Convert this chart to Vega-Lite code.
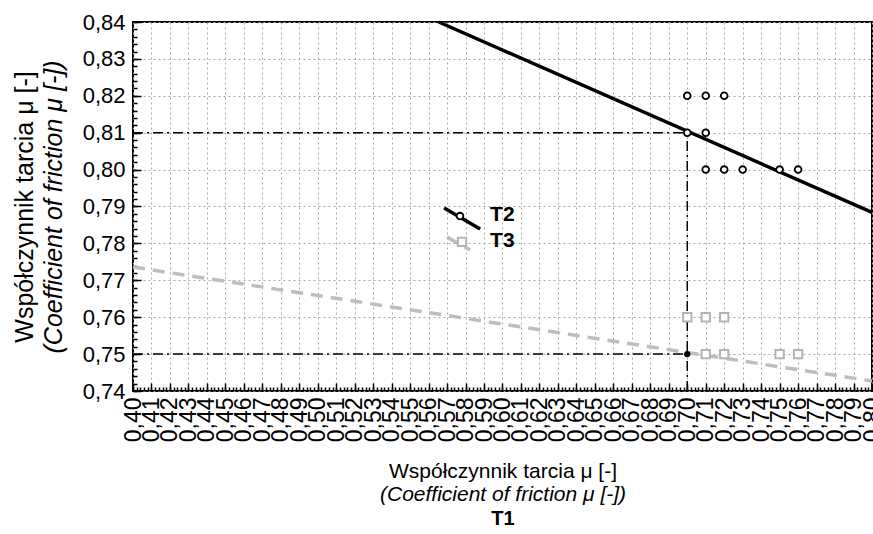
{
  "$schema": "https://vega.github.io/schema/vega-lite/v6.json",
  "width": 739,
  "height": 369,
  "autosize": {"type": "none"},
  "padding": {"left": 133, "top": 22, "right": 1, "bottom": 143},
  "background": "white",
  "config": {
    "view": {"stroke": "black", "strokeWidth": 2},
    "axis": {
      "labelFont": "Liberation Sans",
      "titleFont": "Liberation Sans",
      "labelColor": "black",
      "titleColor": "black",
      "titleFontWeight": "normal",
      "domain": false,
      "grid": false,
      "ticks": false,
      "labels": false,
      "gridColor": "#a8a8a8",
      "gridDash": [2, 3],
      "gridWidth": 1,
      "tickColor": "black",
      "tickWidth": 1.5
    }
  },
  "resolve": {"axis": {"x": "independent", "y": "independent"}},
  "layer": [
    {
      "data": {"values": [
        {"x": 0.40, "x2": 0.70, "y": 0.81, "y2": 0.81},
        {"x": 0.40, "x2": 0.70, "y": 0.75, "y2": 0.75},
        {"x": 0.70, "x2": 0.70, "y": 0.74, "y2": 0.81}
      ]},
      "mark": {"type": "rule", "color": "black", "strokeWidth": 1.5, "strokeDash": [10, 4, 2, 4]},
      "encoding": {
        "x": {"field": "x", "type": "quantitative",
          "scale": {"domain": [0.40, 0.80], "nice": false, "zero": false},
          "axis": {"orient": "bottom", "grid": true, "labels": true, "tickCount": 40,
            "labelAngle": 270, "labelFontSize": 23, "labelPadding": 6,
            "labelOverlap": false, "labelBound": false, "labelFlush": false,
            "labelExpr": "replace(format(datum.value, '.2f'), '.', ',')",
            "title": "Współczynnik tarcia μ [-]", "titleFontSize": 21, "titlePadding": 19}},
        "x2": {"field": "x2"},
        "y": {"field": "y", "type": "quantitative",
          "scale": {"domain": [0.74, 0.84], "nice": false, "zero": false},
          "axis": {"orient": "left", "grid": true, "labels": true, "tickCount": 10,
            "labelFontSize": 22, "labelPadding": 8,
            "labelOverlap": false, "labelBound": false, "labelFlush": false,
            "labelExpr": "replace(format(datum.value, '.2f'), '.', ',')",
            "title": "Współczynnik tarcia μ [-]", "titleFontSize": 25, "titlePadding": 45}},
        "y2": {"field": "y2"}
      }
    },
    {
      "data": {"values": [
        {"x": 0.40, "y": 0.7736, "g": "main"},
        {"x": 0.80, "y": 0.7427, "g": "main"},
        {"x": 0.5700, "y": 0.7817, "g": "legend"},
        {"x": 0.5825, "y": 0.7782, "g": "legend"}
      ]},
      "mark": {"type": "line", "color": "#bdbdbd", "strokeWidth": 3.5, "strokeDash": [12, 8]},
      "encoding": {
        "x": {"field": "x", "type": "quantitative",
          "scale": {"domain": [0.40, 0.80], "nice": false, "zero": false},
          "axis": {"orient": "bottom", "title": "(Coefficient of friction μ [-])",
            "titleFontSize": 21, "titleFontStyle": "italic", "titlePadding": 92}},
        "y": {"field": "y", "type": "quantitative",
          "scale": {"domain": [0.74, 0.84], "nice": false, "zero": false},
          "axis": {"orient": "left", "title": "(Coefficient of friction μ [-])",
            "titleFontSize": 25, "titleFontStyle": "italic", "titlePadding": 67}},
        "detail": {"field": "g"}
      }
    },
    {
      "data": {"values": [
        {"x": 0.5655, "y": 0.8400, "g": "main"},
        {"x": 0.8000, "y": 0.7884, "g": "main"},
        {"x": 0.5684, "y": 0.7896, "g": "legend"},
        {"x": 0.5879, "y": 0.7839, "g": "legend"}
      ]},
      "mark": {"type": "line", "color": "black", "strokeWidth": 3.5},
      "encoding": {
        "x": {"field": "x", "type": "quantitative",
          "scale": {"domain": [0.40, 0.80], "nice": false, "zero": false},
          "axis": {"orient": "bottom", "title": null, "ticks": true, "tickCount": 40, "tickSize": -8}},
        "y": {"field": "y", "type": "quantitative",
          "scale": {"domain": [0.74, 0.84], "nice": false, "zero": false},
          "axis": {"orient": "left", "title": null, "ticks": true, "tickCount": 10, "tickSize": -8}},
        "detail": {"field": "g"}
      }
    },
    {
      "data": {"values": [
        {"x": 0.70, "y": 0.82}, {"x": 0.71, "y": 0.82}, {"x": 0.72, "y": 0.82},
        {"x": 0.70, "y": 0.81}, {"x": 0.71, "y": 0.81},
        {"x": 0.71, "y": 0.80}, {"x": 0.72, "y": 0.80}, {"x": 0.73, "y": 0.80},
        {"x": 0.75, "y": 0.80}, {"x": 0.76, "y": 0.80},
        {"x": 0.577, "y": 0.7874}
      ]},
      "mark": {"type": "point", "shape": "circle", "filled": true, "fill": "white", "stroke": "black", "strokeWidth": 1.8, "size": 45, "opacity": 1},
      "encoding": {
        "x": {"field": "x", "type": "quantitative",
          "scale": {"domain": [0.40, 0.80], "nice": false, "zero": false},
          "axis": {"orient": "bottom", "title": null, "ticks": true, "tickCount": 200, "tickSize": -4}},
        "y": {"field": "y", "type": "quantitative",
          "scale": {"domain": [0.74, 0.84], "nice": false, "zero": false},
          "axis": {"orient": "left", "title": null, "ticks": true, "tickCount": 50, "tickSize": -4}}
      }
    },
    {
      "data": {"values": [
        {"x": 0.70, "y": 0.76}, {"x": 0.71, "y": 0.76}, {"x": 0.72, "y": 0.76},
        {"x": 0.71, "y": 0.75}, {"x": 0.72, "y": 0.75},
        {"x": 0.75, "y": 0.75}, {"x": 0.76, "y": 0.75},
        {"x": 0.5781, "y": 0.7804}
      ]},
      "mark": {"type": "point", "shape": "square", "filled": true, "fill": "white", "stroke": "#b4b4b4", "strokeWidth": 2, "size": 70, "opacity": 1},
      "encoding": {
        "x": {"field": "x", "type": "quantitative",
          "scale": {"domain": [0.40, 0.80], "nice": false, "zero": false},
          "axis": {"orient": "bottom", "title": "T1", "titleFontSize": 20, "titleFontWeight": "bold", "titlePadding": 117}},
        "y": {"field": "y", "type": "quantitative",
          "scale": {"domain": [0.74, 0.84], "nice": false, "zero": false},
          "axis": null}
      }
    },
    {
      "data": {"values": [{"x": 0.70, "y": 0.75}]},
      "mark": {"type": "point", "shape": "circle", "filled": true, "color": "black", "size": 40, "opacity": 1},
      "encoding": {
        "x": {"field": "x", "type": "quantitative",
          "scale": {"domain": [0.40, 0.80], "nice": false, "zero": false}, "axis": null},
        "y": {"field": "y", "type": "quantitative",
          "scale": {"domain": [0.74, 0.84], "nice": false, "zero": false}, "axis": null}
      }
    },
    {
      "data": {"values": [
        {"x": 0.5933, "y": 0.7877, "t": "T2"},
        {"x": 0.5933, "y": 0.7807, "t": "T3"}
      ]},
      "mark": {"type": "text", "align": "left", "baseline": "middle", "font": "Liberation Sans", "fontSize": 21, "fontWeight": "bold", "color": "black"},
      "encoding": {
        "x": {"field": "x", "type": "quantitative",
          "scale": {"domain": [0.40, 0.80], "nice": false, "zero": false}, "axis": null},
        "y": {"field": "y", "type": "quantitative",
          "scale": {"domain": [0.74, 0.84], "nice": false, "zero": false}, "axis": null},
        "text": {"field": "t"}
      }
    }
  ]
}
